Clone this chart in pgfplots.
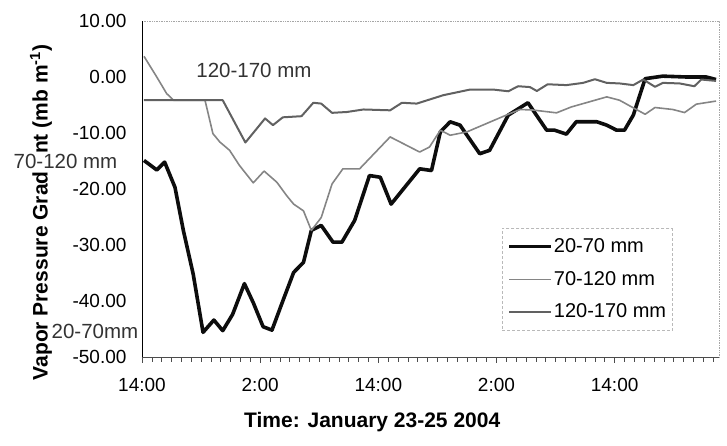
\documentclass[border=0pt]{standalone}
\usepackage{fontspec}
\setmainfont{Liberation Sans}
\usepackage{pgfplots}
\pgfplotsset{compat=1.18}
\definecolor{lineA}{gray}{0.05}
\definecolor{lineB}{gray}{0.52}
\definecolor{lineC}{gray}{0.38}
\begin{document}
\fontsize{19}{22}\selectfont
\begin{tikzpicture}
\path[use as bounding box] (-142pt,-89pt) rectangle (585pt,357pt);
\begin{axis}[
  at={(0pt,0pt)}, anchor=south west,
  scale only axis, width=577pt, height=336pt,
  xmin=0, xmax=58.6, ymin=-50, ymax=10,
  axis line style={draw=none},
  xtick={0,12,24,36,48},
  xticklabels={14:00,2:00,14:00,2:00,14:00},
  minor xtick={1,...,58},
  ytick={-50,-40,-30,-20,-10,0,10},
  yticklabels={-50.00,-40.00,-30.00,-20.00,-10.00,0.00,10.00},
  tick align=outside,
  xtick pos=bottom,
  ytick pos=left,
  ytick style={draw=none},
  major tick length=6pt, minor tick length=5pt,
  xtick style={gray!60!black, line width=0.6pt},
  xticklabel style={font=\fontsize{19}{22}\selectfont, yshift=-9pt},
  yticklabel style={font=\fontsize{19}{22}\selectfont, xshift=-3pt},
  legend style={at={(0.624,0.384)}, anchor=north west,
    draw=gray!55, densely dashed, line width=0.5pt,
    font=\fontsize{20}{23}\selectfont,
    inner xsep=5pt, inner ysep=8pt, row sep=12pt,
    nodes={inner xsep=1pt, inner ysep=2pt, solid}},
  legend cell align=left,
  legend image code/.code={\draw[#1, solid] (0pt,0pt) -- (42pt,0pt);},
  clip=false,
]
\addplot[lineA, line width=3.6pt, line join=round] coordinates {
(0.2,-14.9) (1.5,-16.6) (2.3,-15.2) (3.35,-19.7) (4.2,-27.4) (5.2,-35.2)
(6.2,-45.6) (7.3,-43.4) (8.2,-45.3) (9.2,-42.4) (10.4,-36.9) (11.3,-40.3)
(12.3,-44.6) (13.2,-45.2) (14.3,-40.0) (15.4,-34.9) (16.4,-33.1) (17.2,-27.4)
(18.2,-26.5) (19.4,-29.5) (20.3,-29.5) (21.6,-25.6) (23.1,-17.6) (24.2,-17.9)
(25.3,-22.7) (28.2,-16.4) (29.4,-16.7) (30.3,-9.8) (31.3,-8.0) (32.3,-8.6)
(34.3,-13.7) (35.3,-13.1) (37.2,-6.8) (39.2,-4.6) (41.1,-9.5) (41.9,-9.5)
(43.1,-10.2) (44.1,-8.0) (46.2,-8.0) (47.2,-8.6) (48.2,-9.5) (49.0,-9.5)
(49.9,-6.8) (51.1,-0.3) (52.9,0.15) (55.3,0.0) (57.3,0.0) (58.3,-0.45)
};
\addlegendentry{20-70 mm}
\addplot[lineB, line width=1.6pt, line join=round] coordinates {
(0.2,3.7) (1.5,0.0) (2.5,-2.95) (3.2,-4.15) (6.4,-4.15) (7.2,-10.1)
(7.9,-11.6) (8.9,-13.1) (9.9,-15.8) (11.3,-18.9) (12.4,-16.8) (13.7,-18.8)
(14.7,-21.2) (15.4,-22.7) (16.4,-23.9) (17.2,-27.4) (18.2,-25.1) (19.3,-19.1)
(20.4,-16.4) (22.1,-16.4) (25.2,-10.7) (26.2,-11.6) (28.2,-13.4) (29.2,-12.5)
(30.3,-9.5) (31.3,-10.4) (33.0,-9.8) (35.0,-8.3) (37.0,-6.8) (38.4,-5.8)
(39.7,-5.9) (42.1,-6.4) (43.6,-5.35) (45.1,-4.6) (47.2,-3.55) (48.5,-4.15)
(50.2,-5.8) (51.1,-6.65) (52.1,-5.45) (53.9,-5.8) (55.1,-6.35) (56.3,-4.85)
(58.3,-4.3)
};
\addlegendentry{70-120 mm}
\addplot[lineC, line width=2.0pt, line join=round] coordinates {
(0.2,-4.15) (8.2,-4.15) (10.5,-11.7) (12.5,-7.4) (13.3,-8.6) (14.3,-7.2)
(16.2,-7.0) (17.4,-4.6) (18.2,-4.75) (19.3,-6.4) (20.8,-6.25) (22.5,-5.8)
(25.2,-5.95) (26.4,-4.6) (27.9,-4.75) (30.6,-3.25) (33.3,-2.25) (35.7,-2.25)
(37.2,-2.55) (38.2,-1.65) (39.4,-1.8) (40.1,-2.5) (41.2,-1.3) (43.1,-1.45)
(44.8,-1.05) (46.0,-0.4) (47.2,-1.05) (48.5,-1.15) (49.9,-1.45) (50.9,-0.45)
(52.1,-1.75) (52.9,-1.05) (54.6,-1.15) (56.1,-1.65) (56.8,-0.45) (58.3,-0.7)
};
\addlegendentry{120-170 mm}
% frame
\draw[gray!70, densely dotted, line width=0.7pt] (rel axis cs:0,1) -- (rel axis cs:1,1) -- (rel axis cs:1,0);
\draw[gray!60!black, line width=0.7pt] (rel axis cs:0,0) -- (rel axis cs:1,0);
\draw[black, line width=0.8pt] (rel axis cs:0,0) -- (rel axis cs:0,1);
% y label
\node[rotate=90, font=\fontsize{21}{24}\selectfont\bfseries] at (rel axis cs:-0.175,0.43)
  {Vapor Pressure Gradient (mb m\textsuperscript{-1})};
% x label
\node[font=\fontsize{21}{24}\selectfont\bfseries] at (rel axis cs:0.399,-0.193)
  {Time: January 23-25 2004};
% annotations
\node[font=\fontsize{20.5}{23}\selectfont, text=black!80] at (rel axis cs:0.194,0.852) {120-170 mm};
\node[font=\fontsize{20.5}{23}\selectfont, text=black!80, fill=white, inner sep=0.5pt] at (rel axis cs:-0.1326,0.581) {70-120 mm};
\node[font=\fontsize{20.5}{23}\selectfont, text=black!80, fill=white, inner sep=0.5pt] at (rel axis cs:-0.0815,0.075) {20-70mm};
\end{axis}
\end{tikzpicture}
\end{document}
